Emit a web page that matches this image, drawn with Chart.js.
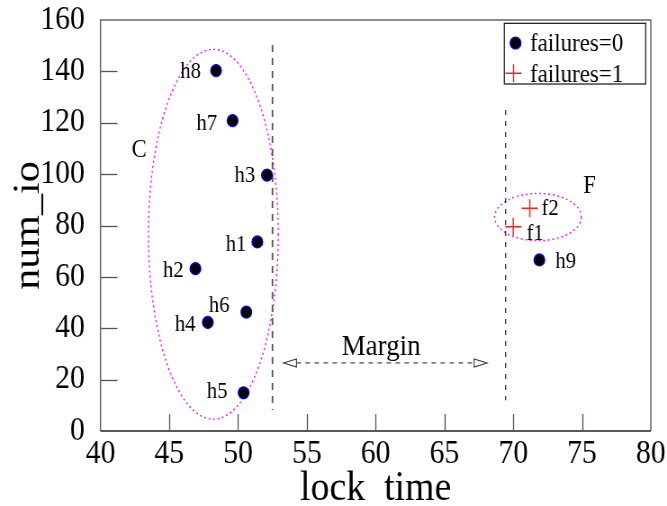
<!DOCTYPE html>
<html><head><meta charset="utf-8">
<script src="https://cdn.jsdelivr.net/npm/chart.js@4.4.1/dist/chart.umd.min.js"></script>
<style>html,body{margin:0;padding:0;background:#fff;overflow:hidden}canvas{display:block}</style>
</head><body>
<canvas id="c" width="741" height="506" style="width:667px;height:506px"></canvas>
<script>
// ---- data ----
const seriesNames = ['failures=0', 'failures=1'];
const hNames = ['h1', 'h2', 'h3', 'h4', 'h5', 'h6', 'h7', 'h8', 'h9'];
const hX = [51.4, 46.9, 52.1, 47.8, 50.4, 50.6, 49.6, 48.4, 71.9];
const hY = [73.6, 63.2, 99.6, 42.3, 14.9, 46.3, 120.8, 140.3, 66.6];
const fNames = ['f1', 'f2'];
const fX = [70.0, 71.2];
const fY = [79.5, 86.7];
const xTitle = 'lock  time';
const yTitle = 'num_io';
const xRange = [40, 80], xStep = 5;
const yRange = [0, 160], yStep = 20;
// annotation shapes (data units)
const clusterNames = ['C', 'F'];
const clusterCx = [48.2, 71.8];
const clusterCy = [76.6, 83.3];
const clusterRx = [4.72, 3.15];
const clusterRy = [72, 9.2];
const clusterLabelX = [42.27, 75.09];
const clusterLabelY = [106.8, 92.5];
const marginText = 'Margin';
const marginFromTo = [53.3, 68.1];
const marginY = 26.5;
const marginTextAt = [60.4, 29.6];
const vLineX = [52.5, 69.45];
const vLineY0 = [150.3, 125];
const vLineY1 = [8.2, 12];

// ---- rendering ----
const SX = 667 / 741;              // horizontal squeeze of the picture
const px = v => v / SX;            // screen px -> canvas px (horizontal)
const FAM = '"Liberation Serif", "Times New Roman", serif';

const labelPlace = {
  h1: [-11, 8.7, 'right'], h2: [-11.7, 8.6, 'right'], h3: [-11.7, 6.7, 'right'],
  h4: [-12.3, 8.7, 'right'], h5: [-16, 5.6, 'right'], h6: [-16.7, 0, 'right'],
  h7: [-15.4, 9.3, 'right'], h8: [-15, 7.6, 'right'], h9: [16, 8.3, 'left'],
  f1: [13.3, 13.3, 'left'], f2: [11.7, 6.7, 'left']
};

const annot = {
  id: 'annot',
  beforeDatasetsDraw(chart) {
    const {ctx, chartArea: a, scales: {x, y}} = chart;
    ctx.save();
    // frame
    ctx.setLineDash([]);
    ctx.lineWidth = 1.5;
    ctx.strokeStyle = '#666';
    ctx.beginPath();
    ctx.moveTo(a.left, a.bottom); ctx.lineTo(a.left, a.top); ctx.lineTo(a.right, a.top); ctx.lineTo(a.right, a.bottom);
    ctx.stroke();
    ctx.strokeStyle = '#222';
    ctx.beginPath(); ctx.moveTo(a.left, a.bottom); ctx.lineTo(a.right, a.bottom); ctx.stroke();
    // inward ticks
    ctx.strokeStyle = '#555';
    ctx.lineWidth = 1.3;
    y.ticks.forEach(t => {
      if (t.value <= yRange[0] || t.value >= yRange[1]) return;
      const p = Math.round(y.getPixelForValue(t.value)) + 0.5;
      ctx.beginPath(); ctx.moveTo(a.left, p); ctx.lineTo(a.left + px(17), p); ctx.stroke();
    });
    x.ticks.forEach(t => {
      if (t.value <= xRange[0] || t.value >= xRange[1]) return;
      const p = Math.round(x.getPixelForValue(t.value)) + 0.5;
      ctx.beginPath(); ctx.moveTo(p, a.bottom); ctx.lineTo(p, a.bottom - 17); ctx.stroke();
    });
    // cluster ellipses
    ctx.strokeStyle = '#ff00ff';
    ctx.lineWidth = 1.4;
    ctx.setLineDash([2, 3]);
    clusterNames.forEach((n, i) => {
      const cx = x.getPixelForValue(clusterCx[i]), cy = y.getPixelForValue(clusterCy[i]);
      const rx = Math.abs(x.getPixelForValue(clusterCx[i] + clusterRx[i]) - cx);
      const ry = Math.abs(y.getPixelForValue(clusterCy[i] + clusterRy[i]) - cy);
      ctx.beginPath(); ctx.ellipse(cx, cy, rx, ry, 0, 0, Math.PI * 2); ctx.stroke();
    });
    // vertical dashed lines
    const vStyles = [{c: '#555', w: 1.8, d: [7, 6]}, {c: '#111', w: 1.1, d: [5, 6]}];
    vLineX.forEach((vx, i) => {
      const st = vStyles[i];
      ctx.strokeStyle = st.c; ctx.lineWidth = st.w; ctx.setLineDash(st.d);
      const p = x.getPixelForValue(vx);
      ctx.beginPath(); ctx.moveTo(p, y.getPixelForValue(vLineY0[i])); ctx.lineTo(p, y.getPixelForValue(vLineY1[i])); ctx.stroke();
    });
    // margin arrow
    const ay = y.getPixelForValue(marginY);
    const ax0 = x.getPixelForValue(marginFromTo[0]), ax1 = x.getPixelForValue(marginFromTo[1]);
    const hl = px(13), hh = 4;
    ctx.strokeStyle = '#333'; ctx.lineWidth = 1.1; ctx.setLineDash([5, 5]);
    ctx.beginPath(); ctx.moveTo(ax0 + hl, ay); ctx.lineTo(ax1 - hl, ay); ctx.stroke();
    ctx.setLineDash([]);
    ctx.fillStyle = '#fff';
    ctx.beginPath(); ctx.moveTo(ax0, ay); ctx.lineTo(ax0 + hl, ay - hh); ctx.lineTo(ax0 + hl, ay + hh); ctx.closePath(); ctx.fill(); ctx.stroke();
    ctx.beginPath(); ctx.moveTo(ax1, ay); ctx.lineTo(ax1 - hl, ay - hh); ctx.lineTo(ax1 - hl, ay + hh); ctx.closePath(); ctx.fill(); ctx.stroke();
    ctx.restore();
  },
  afterDatasetsDraw(chart) {
    const {ctx, scales: {x, y}} = chart;
    ctx.save();
    ctx.fillStyle = '#000';
    ctx.textBaseline = 'alphabetic';
    // point labels
    ctx.font = '23px ' + FAM;
    const names = [hNames, fNames];
    chart.data.datasets.forEach((ds, di) => {
      const meta = chart.getDatasetMeta(di);
      meta.data.forEach((el, i) => {
        const n = names[di][i];
        const pl = labelPlace[n];
        ctx.textAlign = pl[2];
        ctx.fillText(n, el.x + px(pl[0]), el.y + pl[1]);
      });
    });
    // cluster names
    ctx.font = '25px ' + FAM;
    ctx.textAlign = 'left';
    clusterNames.forEach((n, i) => {
      ctx.fillText(n, x.getPixelForValue(clusterLabelX[i]), y.getPixelForValue(clusterLabelY[i]));
    });
    // margin text
    ctx.font = '30px ' + FAM;
    ctx.textAlign = 'center';
    ctx.fillText(marginText, x.getPixelForValue(marginTextAt[0]), y.getPixelForValue(marginTextAt[1]));
    // legend
    const bx = px(504.3), by = 23.3, bw = px(645.7 - 504.3), bh = 84 - 23.3;
    ctx.fillStyle = '#fff'; ctx.fillRect(bx, by, bw, bh);
    ctx.strokeStyle = '#111'; ctx.lineWidth = 1.2; ctx.strokeRect(bx, by, bw, bh);
    const d0 = chart.data.datasets[0], d1 = chart.data.datasets[1];
    ctx.beginPath(); ctx.arc(px(515.5), 43, d0.pointRadius, 0, Math.PI * 2);
    ctx.fillStyle = d0.backgroundColor; ctx.fill();
    ctx.strokeStyle = d0.borderColor; ctx.lineWidth = d0.borderWidth; ctx.stroke();
    const cx = px(513.5), cy = 73.3, r = d1.pointRadius;
    ctx.strokeStyle = d1.borderColor; ctx.lineWidth = d1.borderWidth;
    ctx.beginPath(); ctx.moveTo(cx - r, cy); ctx.lineTo(cx + r, cy); ctx.moveTo(cx, cy - r); ctx.lineTo(cx, cy + r); ctx.stroke();
    ctx.fillStyle = '#000';
    ctx.font = '25.5px ' + FAM;
    ctx.textAlign = 'left';
    ctx.fillText(d0.label, px(530), 50.7);
    ctx.fillText(d1.label, px(530), 81.7);
    ctx.restore();
  }
};

new Chart(document.getElementById('c'), {
  type: 'scatter',
  data: {
    datasets: [
      {label: seriesNames[0], data: hX.map((v, i) => ({x: v, y: hY[i]})),
       pointStyle: 'circle', pointRadius: 6, pointHoverRadius: 6,
       backgroundColor: '#000000', borderColor: '#0000ff', borderWidth: 1.2},
      {label: seriesNames[1], data: fX.map((v, i) => ({x: v, y: fY[i]})),
       pointStyle: 'cross', pointRadius: 9, pointHoverRadius: 9,
       backgroundColor: '#ff2020', borderColor: '#ff2020', borderWidth: 1.5}
    ]
  },
  options: {
    responsive: false, animation: false, devicePixelRatio: 1,
    layout: {padding: {top: 20, right: 18, left: 0, bottom: 0}},
    plugins: {legend: {display: false}, tooltip: {enabled: false}},
    scales: {
      x: {
        type: 'linear', min: xRange[0], max: xRange[1],
        ticks: {stepSize: xStep, padding: 4, color: '#000', maxRotation: 0, autoSkip: false,
                font: {family: FAM, size: 33, lineHeight: 1.2}},
        grid: {display: false, drawTicks: false}, border: {display: false},
        title: {display: true, text: xTitle, color: '#000',
                font: {family: FAM, size: 42, lineHeight: 0.8}, padding: {top: 0, bottom: 0}},
        afterFit(s) { s.height = 75; s.paddingLeft = 0; s.paddingRight = 0; }
      },
      y: {
        type: 'linear', min: yRange[0], max: yRange[1],
        ticks: {stepSize: yStep, padding: 17.3, color: '#000',
                font: {family: FAM, size: 33, lineHeight: 1.0}},
        grid: {display: false, drawTicks: false}, border: {display: false},
        title: {display: true, text: yTitle, color: '#000',
                font: {family: FAM, size: 42, lineHeight: 0.8}, padding: {top: 15, bottom: 0}},
        afterFit(s) { s.width = px(100.5); s.paddingTop = 0; s.paddingBottom = 0; }
      }
    }
  },
  plugins: [annot]
});
</script>
</body></html>
